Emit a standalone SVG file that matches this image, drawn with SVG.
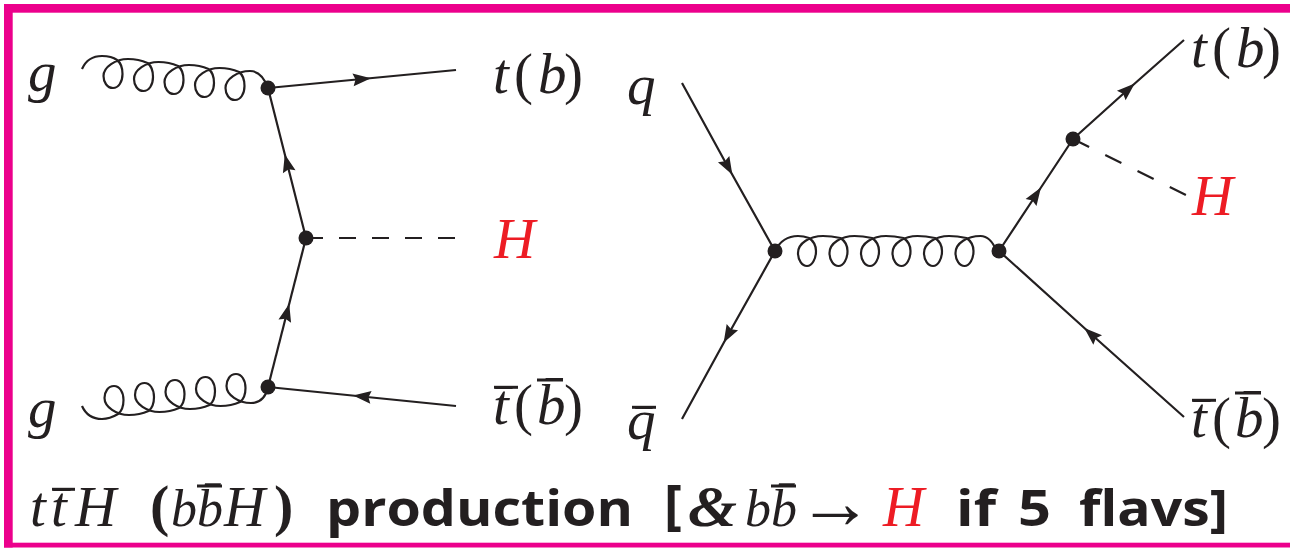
<svg xmlns="http://www.w3.org/2000/svg" width="1290" height="548" viewBox="0 0 1290 548">
<style>
.l{fill:none;stroke:#231f20;stroke-width:2.2}
.a{marker-mid:url(#arr)}
.d{stroke-dasharray:17 16}
.e{stroke-dasharray:18 18}
.v,.bar{fill:#231f20}
.f{fill:#ec008c}
text{font-family:"Liberation Serif","Times New Roman",serif;font-style:italic;font-size:57px;fill:#231f20}
.r{fill:#ed1c24}
.b{font-family:"Open Sans","Liberation Sans",sans-serif;font-style:normal;font-weight:700;font-size:50px}
.p{font-style:normal;font-weight:700;font-size:58px}
.u{font-style:normal}
.s{font-size:52px}
</style>
<defs>
<marker id="arr" markerUnits="userSpaceOnUse" markerWidth="20" markerHeight="14" refX="9" refY="7" orient="auto" overflow="visible">
<path d="M0,.5L18,7L0,13.500L2.500,7Z" fill="#231f20"/>
</marker>
</defs>
<g id="frame">
<rect class="f" x="4" y="4" width="1286" height="8.700"/>
<rect class="f" x="4" y="4" width="8.700" height="543.500"/>
<rect class="f" x="4" y="542.700" width="1286" height="4.800"/>
</g>
<g id="connectors">
<path class="l a" d="M268,88L362,79L456,70"/>
<path class="l a" d="M306,238L287,163L268,88"/>
<path class="l a" d="M268,387L287,312.500L306,238"/>
<path class="l a" d="M456,406L362,396.500L268,387"/>
<path class="l d" d="M306,238H456"/>
<path class="l a" d="M682,83L728,167L775,251"/>
<path class="l a" d="M775,251L728,335L682,419"/>
<path class="l a" d="M999,251L1036,195L1073,139"/>
<path class="l a" d="M1073,139L1128,89.500L1184,40"/>
<path class="l e" d="M1073,139L1186,195"/>
<path class="l a" d="M1184,417L1091,334L999,251"/>
<path class="l" d="M82,69C86,60 94,56 102,56C108,56 113,57 117,60c4,3 5.500,8 5.500,14c0,8 -4,14 -9.500,14c-6,0 -9.500,-6 -9.500,-12c0,-9 12,-17 24.500,-17c8,0 14,1.500 19.500,4c4,3 5.500,8 5.500,14c0,8 -4,14 -9.500,14c-6,0 -9.500,-6 -9.500,-12c0,-9 12,-17 24.500,-17c8,0 14,1.500 19.500,4c4,3 5.500,8 5.500,14c0,8 -4,14 -9.500,14c-6,0 -9.500,-6 -9.500,-12c0,-9 12,-17 24.500,-17c8,0 14,1.500 19.500,4c4,3 5.500,8 5.500,14c0,8 -4,14 -9.500,14c-6,0 -9.500,-6 -9.500,-12c0,-9 12,-17 24.500,-17c8,0 14,1.500 19.500,4c4,3 5.500,8 5.500,14c0,8 -4,14 -9.500,14c-6,0 -9.500,-6 -9.500,-12c0,-9 12,-17 24.500,-17c8,0 14,6 18,17"/>
<path class="l" d="M82,406C86,415 94,419 102,419C108,419 113,417 118,414c4,-3 5.500,-8 5.500,-14c0,-8 -4,-14 -9.500,-14c-6,0 -9.500,6 -9.500,12c0,9 12,17 24.500,17c8,0 14,-1.500 19.500,-4c4,-3 5.500,-8 5.500,-14c0,-8 -4,-14 -9.500,-14c-6,0 -9.500,6 -9.500,12c0,9 12,17 24.500,17c8,0 14,-1.500 19.500,-4c4,-3 5.500,-8 5.500,-14c0,-8 -4,-14 -9.500,-14c-6,0 -9.500,6 -9.500,12c0,9 12,17 24.500,17c8,0 14,-1.500 19.500,-4c4,-3 5.500,-8 5.500,-14c0,-8 -4,-14 -9.500,-14c-6,0 -9.500,6 -9.500,12c0,9 12,17 24.500,17c8,0 14,-1.500 19.500,-4c4,-3 5.500,-8 5.500,-14c0,-8 -4,-14 -9.500,-14c-6,0 -9.500,6 -9.500,12c0,9 12,17 24.500,17c8,0 14,-4 17,-15"/>
<path class="l" d="M775,251C780,241 788,236 798,236C802,236 805,236.500 809,238c4.500,3 7,8 7,13c0,8 -4,15 -9,15c-5,0 -9,-6 -9,-13c0,-10 12,-17 25,-17c6.500,0 11.500,.7 17.500,2c4.500,3 7,8 7,13c0,8 -4,15 -9,15c-5,0 -9,-6 -9,-13c0,-10 12,-17 25,-17c6.500,0 11.500,.7 17.500,2c4.500,3 7,8 7,13c0,8 -4,15 -9,15c-5,0 -9,-6 -9,-13c0,-10 12,-17 25,-17c6.500,0 11.500,.7 17.500,2c4.500,3 7,8 7,13c0,8 -4,15 -9,15c-5,0 -9,-6 -9,-13c0,-10 12,-17 25,-17c6.500,0 11.500,.7 17.500,2c4.500,3 7,8 7,13c0,8 -4,15 -9,15c-5,0 -9,-6 -9,-13c0,-10 12,-17 25,-17c6.500,0 11.500,.7 17.500,2c4.500,3 7,8 7,13c0,8 -4,15 -9,15c-5,0 -9,-6 -9,-13c0,-10 12,-17 25,-17c7,0 12,5 16,15"/>
</g>
<g id="v1"><circle class="v" cx="268" cy="88" r="7.500"/></g>
<g id="v2"><circle class="v" cx="306" cy="238" r="7.500"/></g>
<g id="v3"><circle class="v" cx="268" cy="387" r="7.500"/></g>
<g id="v4"><circle class="v" cx="775" cy="251" r="7.500"/></g>
<g id="v5"><circle class="v" cx="999" cy="251" r="7.500"/></g>
<g id="v6"><circle class="v" cx="1073" cy="139" r="7.500"/></g>
<g id="labels">
<text x="28" y="91">g</text>
<text x="28" y="427">g</text>
<text y="93"><tspan x="493">t</tspan><tspan class="u" x="514">(</tspan><tspan x="538">b</tspan><tspan class="u" x="564">)</tspan></text>
<text class="r" x="494" y="258">H</text>
<text y="424"><tspan x="493">t̄</tspan><tspan class="u" x="514">(</tspan><tspan x="537">b̄</tspan><tspan class="u" x="564">)</tspan></text>
<rect class="bar" x="494" y="385.800" width="24" height="3"/>
<rect class="bar" x="537" y="378.500" width="26" height="3"/>
<text x="627" y="104">q</text>
<text x="627" y="439">q̄</text>
<rect class="bar" x="632" y="405.800" width="24" height="3"/>
<text y="67"><tspan x="1191">t</tspan><tspan class="u" x="1212">(</tspan><tspan x="1236">b</tspan><tspan class="u" x="1262">)</tspan></text>
<text class="r" x="1192" y="215">H</text>
<text y="437"><tspan x="1191">t̄</tspan><tspan class="u" x="1212">(</tspan><tspan x="1235">b̄</tspan><tspan class="u" x="1262">)</tspan></text>
<rect class="bar" x="1192" y="398.800" width="24" height="3"/>
<rect class="bar" x="1235" y="391.500" width="26" height="3"/>
</g>
<g id="caption">
<text y="526"><tspan x="30">t</tspan><tspan x="51">t̄</tspan><tspan x="75">H</tspan></text>
<rect class="bar" x="52" y="487.800" width="23" height="3"/>
<text class="p" x="150" y="525">(</text>
<text class="s" y="526"><tspan x="171">b</tspan><tspan x="197">b̄</tspan></text>
<text x="224" y="526">H</text>
<rect class="bar" x="197" y="484.500" width="25" height="3"/>
<text class="p" x="274" y="525">)</text>
<text class="b" x="326" y="526" textLength="307" lengthAdjust="spacingAndGlyphs">production</text>
<text class="b" x="664" y="524" style="font-size:54px">[</text>
<text x="688" y="526" textLength="49" lengthAdjust="spacingAndGlyphs" style="font-weight:700;font-size:56px">&amp;</text>
<text class="s" y="526"><tspan x="745">b</tspan><tspan x="771">b̄</tspan></text>
<rect class="bar" x="771" y="484.500" width="25" height="3"/>
<text class="u" x="797" y="528" style="font-size:76px">→</text>
<text class="r" x="883" y="526">H</text>
<text class="b" x="956" y="526" textLength="40" lengthAdjust="spacingAndGlyphs">if</text>
<text class="b" x="1018" y="526" textLength="33" lengthAdjust="spacingAndGlyphs">5</text>
<text class="b" x="1079" y="526" textLength="149" lengthAdjust="spacingAndGlyphs">flavs]</text>
</g>
</svg>
